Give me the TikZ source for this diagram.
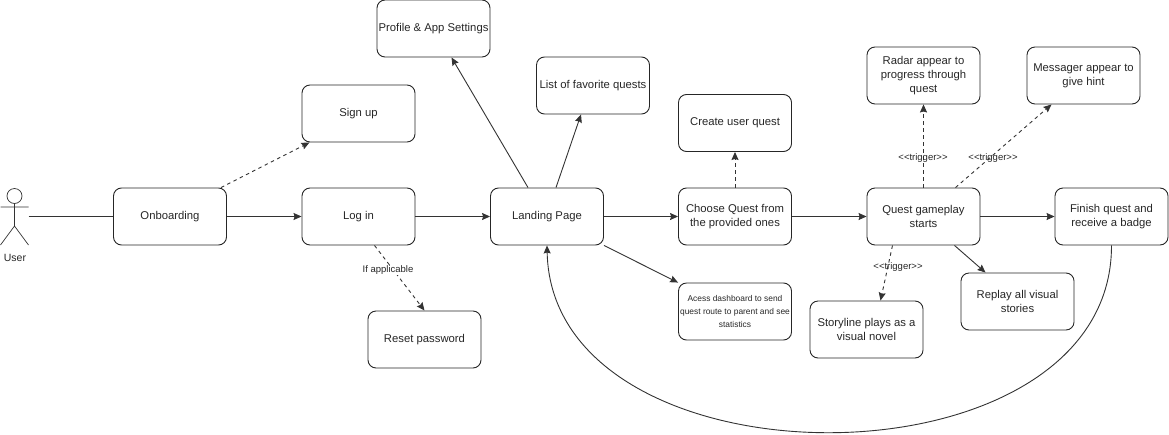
\documentclass[tikz,border=0pt]{standalone}
\usepackage{fontspec}
\setmainfont{Liberation Sans}
\usetikzlibrary{arrows.meta}
\tikzset{
  every picture/.style={x=1pt,y=-1pt},
  box/.style={draw=black!85,line width=0.9pt,rounded corners=8pt,minimum width=113pt,minimum height=57pt,inner sep=0pt,align=center,font=\fontsize{11.3}{14}\selectfont,text=black!85},
  small/.style={font=\fontsize{8.4}{13.2}\selectfont},
  solidarrow/.style={draw=black!80,line width=0.9pt,-{Stealth[length=8pt,width=7pt,inset=1pt]}},
  dasharrow/.style={solidarrow,dash pattern=on 3.5pt off 3.5pt},
  plainline/.style={draw=black!80,line width=0.9pt},
  lbl/.style={font=\fontsize{9.5}{11}\selectfont,text=black!85,inner sep=1pt},
}
\begin{document}
\begin{tikzpicture}
\useasboundingbox (0,0) rectangle (1169,434);
% actor
\node[minimum width=29pt,minimum height=57pt,inner sep=0pt] (actor) at (14.5,216.5) {};
\draw[plainline,line width=0.7pt] (14.5,196) circle (7.5pt);
\draw[plainline,line width=0.7pt] (14.5,203.5) -- (14.5,226) (0.5,207) -- (28.5,207) (0.5,245) -- (14.5,226) -- (28.5,245);
\node[lbl,font=\fontsize{10.5}{12}\selectfont] (userlabel) at (15,258) {User};
% boxes
\node[box] (onb) at (170,216.5) {Onboarding};
\node[box] (login) at (358.5,216.5) {Log in};
\node[box] (signup) at (358.5,113.5) {Sign up};
\node[box] (reset) at (424.5,339.5) {Reset password};
\node[box] (landing) at (547,216.5) {Landing Page};
\node[box] (profile) at (433.5,28.5) {Profile \& App Settings};
\node[box] (fav) at (593,85.5) {List of favorite quests};
\node[box] (create) at (735,123) {Create user quest};
\node[box] (choose) at (735,216.5) {Choose Quest from\\the provided ones};
\node[box,small] (access) at (735,311.5) {Acess dashboard to send\\quest route to parent and see\\statistics};
\node[box] (game) at (923.5,216.5) {Quest gameplay\\starts};
\node[box] (finish) at (1111.5,216.5) {Finish quest and\\receive a badge};
\node[box] (radar) at (923.5,75.5) {Radar appear to\\progress through\\quest};
\node[box] (msg) at (1083.5,75.5) {Messager appear to\\give hint};
\node[box] (story) at (866.5,329.5) {Storyline plays as a\\visual novel};
\node[box] (replay) at (1017.5,301.5) {Replay all visual\\stories};
% connectors
\draw[plainline] ([xshift=14pt]actor.center) -- (onb.west);
\draw[solidarrow] (onb.east) -- (login.west);
\draw[solidarrow] (login.east) -- (landing.west);
\draw[solidarrow] (landing.east) -- (choose.west);
\draw[solidarrow] (choose.east) -- (game.west);
\draw[solidarrow] (game.east) -- (finish.west);
\draw[dasharrow] ([xshift=51pt]onb.north) -- ([xshift=-49pt]signup.south);
\draw[dasharrow] ([xshift=16pt]login.south) -- (reset.north);
\draw[solidarrow] ([xshift=-19pt]landing.north) -- ([xshift=18pt]profile.south);
\draw[solidarrow] ([xshift=9pt]landing.north) -- ([xshift=-12pt]fav.south);
\draw[solidarrow] (landing.south east) -- (access.north west);
\draw[dasharrow] (choose.north) -- (create.south);
\draw[dasharrow] (game.north) -- (radar.south);
\draw[dasharrow] ([xshift=32pt]game.north) -- ([xshift=-32pt]msg.south);
\draw[dasharrow] ([xshift=-31pt]game.south) -- ([xshift=14pt]story.north);
\draw[solidarrow] ([xshift=31pt]game.south) -- ([xshift=-32pt]replay.north);
\draw[solidarrow] (finish.south) .. controls (1112,494) and (552,494) .. (landing.south);
% labels
\node[lbl,fill=white] (lb1) at (388,270) {If applicable};
\node[lbl] (lb2) at (923,158) {<{}<trigger>{}>};
\node[lbl] (lb3) at (993,158) {<{}<trigger>{}>};
\node[lbl] (lb4) at (898,267) {<{}<trigger>{}>};
\end{tikzpicture}
\end{document}
